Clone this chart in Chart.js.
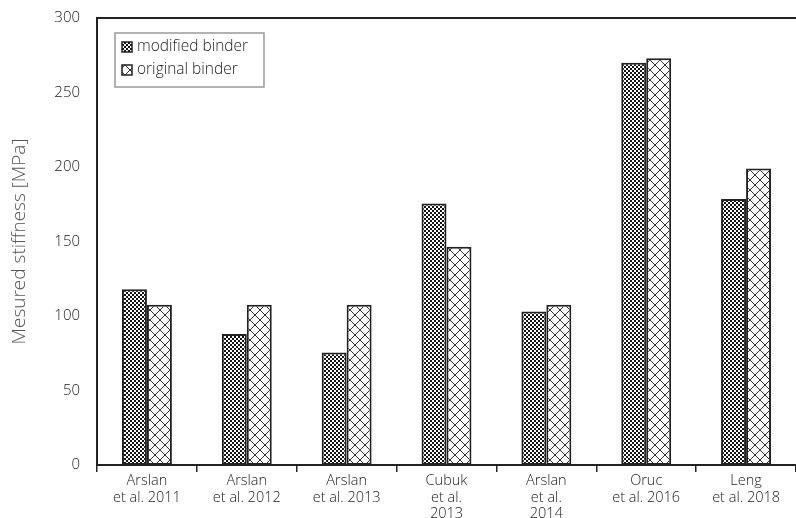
<!DOCTYPE html>
<html><head><meta charset="utf-8">
<script src="https://cdn.jsdelivr.net/npm/chart.js@4"></script>
<style>html,body{margin:0;padding:0;background:#fff}#wrap{width:796px;height:518px;position:relative}</style>
</head><body><div id="wrap"><canvas id="c"></canvas></div>
<script>
const categories = [["Arslan","et al. 2011"],["Arslan","et al. 2012"],["Arslan","et al. 2013"],["Cubuk","et al.","2013"],["Arslan","et al.","2014"],["Oruc","et al. 2016"],["Leng","et al. 2018"]];
const modifiedBinder = [118, 88, 75.5, 175.5, 103, 270, 178.5];
const originalBinder = [107.5, 107.5, 107.5, 146.5, 107.5, 273, 199];
const yTicks = [0, 50, 100, 150, 200, 250, 300];
const seriesLabels = ["modified binder", "original binder"];
const yTitle = "Mesured stiffness [MPa]";

const FONT = "'Open Sans', 'DejaVu Sans', sans-serif";

function checkerPattern() {
  const c = document.createElement('canvas'); c.width = 4; c.height = 4;
  const g = c.getContext('2d');
  g.fillStyle = '#141414'; g.fillRect(0, 0, 4, 4);
  g.fillStyle = '#ffffff'; g.fillRect(0, 0, 2, 2); g.fillRect(2, 2, 2, 2);
  return g.createPattern(c, 'repeat');
}
function hatchPattern() {
  const s = 10;
  const c = document.createElement('canvas'); c.width = s; c.height = s;
  const g = c.getContext('2d');
  g.fillStyle = '#ffffff'; g.fillRect(0, 0, s, s);
  g.strokeStyle = '#333'; g.lineWidth = 1;
  g.beginPath();
  g.moveTo(-1, -1); g.lineTo(s + 1, s + 1);
  g.moveTo(s + 1, -1); g.lineTo(-1, s + 1);
  g.stroke();
  return g.createPattern(c, 'repeat');
}
const patterns = [checkerPattern(), hatchPattern()];

const frameAndLegend = {
  id: 'frameAndLegend',
  afterDraw(chart) {
    const ctx = chart.ctx, a = chart.chartArea;
    ctx.save();
    ctx.strokeStyle = '#222'; ctx.lineWidth = 2;
    ctx.beginPath(); ctx.moveTo(a.left - 1, a.top); ctx.lineTo(a.right, a.top); ctx.stroke();
    const bx = a.left + 18, by = a.top + 15, bw = 149, bh = 54;
    ctx.fillStyle = '#fff'; ctx.fillRect(bx, by, bw, bh);
    ctx.strokeStyle = '#999'; ctx.lineWidth = 1.5; ctx.strokeRect(bx, by, bw, bh);
    ctx.font = "300 15.5px " + FONT;
    ctx.textBaseline = 'middle'; ctx.textAlign = 'left';
    chart.data.datasets.forEach((ds, i) => {
      const cy = by + 14 + i * 23;
      ctx.fillStyle = ds.backgroundColor;
      ctx.fillRect(bx + 7, cy - 5, 10, 10);
      ctx.strokeStyle = '#222'; ctx.lineWidth = 1.5;
      ctx.strokeRect(bx + 7, cy - 5, 10, 10);
      ctx.fillStyle = '#222';
      ctx.fillText(ds.label, bx + 22, cy);
    });
    ctx.restore();
  }
};

new Chart(document.getElementById('c'), {
  type: 'bar',
  data: {
    labels: categories,
    datasets: [
      { label: seriesLabels[0], data: modifiedBinder, backgroundColor: patterns[0], borderColor: '#222', borderWidth: 2, borderSkipped: false },
      { label: seriesLabels[1], data: originalBinder, backgroundColor: patterns[1], borderColor: '#222', borderWidth: 2, borderSkipped: false }
    ]
  },
  options: {
    responsive: true, maintainAspectRatio: false, animation: false,
    layout: { padding: { top: 16, right: 0, left: 8, bottom: 0 } },
    datasets: { bar: { categoryPercentage: 0.5, barPercentage: 1.0 } },
    plugins: { legend: { display: false }, tooltip: { enabled: false } },
    scales: {
      x: {
        grid: { display: true, drawOnChartArea: false, offset: true, tickLength: 7, color: '#222', lineWidth: 1.5 },
        border: { display: true, color: '#222', width: 2 },
        ticks: { color: '#222', font: { family: FONT, size: 14.5, weight: 300, lineHeight: 1.13 }, padding: 1, maxRotation: 0, autoSkip: false },
        afterFit(s) { s.height = 53; }
      },
      y: {
        min: 0, max: 300,
        afterBuildTicks(s) { s.ticks = yTicks.map(v => ({ value: v })); },
        grid: { display: false },
        border: { display: true, color: '#222', width: 2 },
        ticks: { color: '#222', font: { family: FONT, size: 15, weight: 300 }, padding: 9 },
        title: { display: true, text: yTitle, color: '#555', font: { family: FONT, size: 19, weight: 300 }, padding: { top: 0, bottom: 8 } },
        afterFit(s) { s.width = 89; }
      }
    }
  },
  plugins: [frameAndLegend]
});
</script>
</body></html>
